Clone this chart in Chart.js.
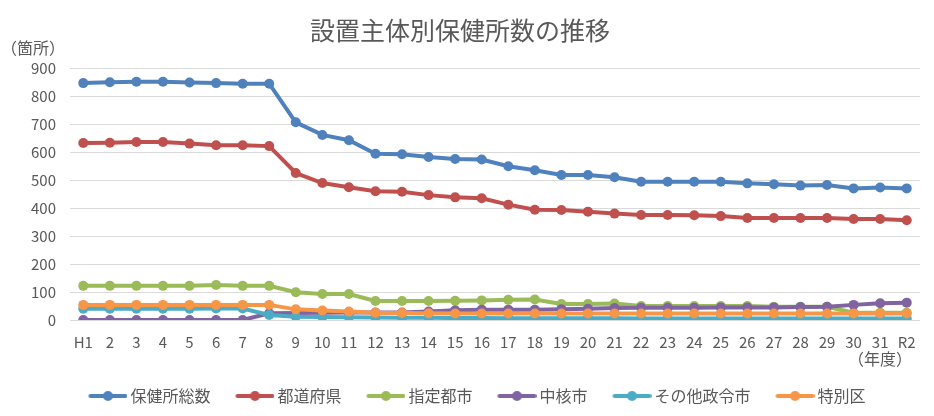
<!DOCTYPE html>
<html lang="ja">
<head>
<meta charset="utf-8">
<title>設置主体別保健所数の推移</title>
<script src="https://cdn.jsdelivr.net/npm/chart.js@4/dist/chart.umd.min.js"></script>
<style>
  html, body { margin: 0; padding: 0; background: #fff; }
  #wrap { width: 934px; height: 416px; position: relative; }
</style>
</head>
<body>
<div id="wrap"><canvas id="chart"></canvas></div>
<script>
const years = ["H1","2","3","4","5","6","7","8","9","10","11","12","13","14","15","16",
  "17","18","19","20","21","22","23","24","25","26","27","28","29","30","31","R2"];

const seriesNames = ["保健所総数", "都道府県", "指定都市", "中核市", "その他政令市", "特別区"];
const seriesColors = ["#4f81bd", "#c0504d", "#9bbb59", "#8064a2", "#4bacc6", "#f79646"];

const total = [846, 849, 851, 851, 848, 846, 844, 844, 706, 661, 642, 594, 592, 582, 575, 573,
  549, 535, 518, 518, 510, 494, 494, 494, 494, 488, 485, 480, 482, 470, 473, 470];
const prefecture = [632, 633, 636, 636, 630, 624, 624, 621, 525, 489, 474, 460, 458, 446, 438, 435,
  412, 394, 393, 387, 380, 375, 375, 374, 371, 364, 364, 364, 364, 361, 361, 356];
const designatedCity = [122, 122, 122, 122, 122, 125, 122, 122, 99, 93, 93, 68, 68, 68, 69, 70,
  72, 73, 57, 57, 59, 50, 50, 50, 50, 50, 47, 47, 47, 26, 26, 26];
const coreCity = [0, 0, 0, 0, 0, 0, 0, 24, 25, 26, 27, 27, 27, 30, 35, 37,
  37, 37, 38, 40, 43, 44, 44, 44, 45, 45, 45, 46, 47, 54, 60, 62];
const otherCity = [40, 40, 40, 40, 40, 41, 41, 18, 12, 11, 10, 9, 8, 8, 7, 7,
  6, 6, 6, 6, 6, 5, 5, 5, 5, 5, 5, 5, 5, 5, 5, 5];
const specialWard = [54, 54, 54, 54, 54, 54, 54, 54, 38, 34, 30, 26, 25, 24, 23, 23,
  23, 23, 23, 23, 23, 23, 23, 23, 23, 23, 23, 23, 23, 23, 23, 23];

const yTicks = [0, 100, 200, 300, 400, 500, 600, 700, 800, 900];

const allSeries = [total, prefecture, designatedCity, coreCity, otherCity, specialWard];
const FONT = "'Noto Sans CJK JP', 'Noto Sans', sans-serif";
const TEXT = "#595959";

// small line-with-dot picture for each legend entry
function legendMark(color) {
  const c = document.createElement("canvas");
  c.width = 44;
  c.height = 12;
  const g = c.getContext("2d");
  g.strokeStyle = color;
  g.lineWidth = 4;
  g.lineCap = "round";
  g.beginPath();
  g.moveTo(7, 6);
  g.lineTo(42, 6);
  g.stroke();
  g.fillStyle = color;
  g.beginPath();
  g.arc(24.5, 6, 5, 0, Math.PI * 2);
  g.fill();
  return c;
}

const datasets = allSeries.map((data, i) => ({
  label: seriesNames[i],
  data: data,
  borderColor: seriesColors[i],
  backgroundColor: seriesColors[i],
  pointBackgroundColor: seriesColors[i],
  pointBorderColor: seriesColors[i],
  borderWidth: 4,
  pointRadius: 5,
  pointBorderWidth: 0,
  tension: 0,
  // later series on top, like the original
  order: allSeries.length - i
}));

const axisNotes = {
  id: "axisNotes",
  afterLayout(chart) {
    // the original legend sits a little right of centre
    chart.legend.left += 17;
    chart.legend.right += 17;
  },
  afterDraw(chart) {
    const ctx = chart.ctx;
    const area = chart.chartArea;
    ctx.save();
    ctx.fillStyle = TEXT;
    ctx.font = "16px " + FONT;
    ctx.textAlign = "center";
    ctx.textBaseline = "middle";
    ctx.fillText("（箇所）", 33, area.top - 20);
    ctx.fillText("（年度）", 880, area.bottom + 39);
    ctx.restore();
  }
};

new Chart(document.getElementById("chart"), {
  type: "line",
  data: { labels: years, datasets: datasets },
  options: {
    responsive: true,
    maintainAspectRatio: false,
    animation: false,
    layout: { padding: { left: 0, right: 14, top: 0, bottom: 2 } },
    plugins: {
      title: {
        display: true,
        text: "設置主体別保健所数の推移",
        color: TEXT,
        font: { family: FONT, size: 25, weight: "normal" },
        padding: { top: 15, bottom: 23 }
      },
      legend: {
        position: "bottom",
        labels: {
          usePointStyle: true,
          pointStyleWidth: 34,
          padding: 25,
          color: TEXT,
          font: { family: FONT, size: 16 },
          generateLabels(chart) {
            return chart.data.datasets.map((ds, i) => ({
              text: ds.label,
              pointStyle: legendMark(seriesColors[i]),
              fontColor: TEXT,
              strokeStyle: seriesColors[i],
              fillStyle: seriesColors[i],
              lineWidth: 0,
              hidden: !chart.isDatasetVisible(i),
              datasetIndex: i
            }));
          }
        }
      },
      tooltip: { enabled: false }
    },
    scales: {
      x: {
        offset: true,
        grid: { display: false, drawTicks: false },
        border: { display: false },
        ticks: {
          color: TEXT,
          font: { family: FONT, size: 15 },
          padding: 13,
          maxRotation: 0,
          autoSkip: false
        },
        afterFit(scale) { scale.height = 43; }
      },
      y: {
        min: 0,
        max: 900,
        grid: { color: "#d9d9d9", lineWidth: 1, drawTicks: false },
        border: { display: false },
        afterBuildTicks(scale) { scale.ticks = yTicks.map(v => ({ value: v })); },
        ticks: {
          color: TEXT,
          font: { family: FONT, size: 15 },
          padding: 14
        },
        afterFit(scale) { scale.width = 70; }
      }
    }
  },
  plugins: [axisNotes]
});
</script>
</body>
</html>
